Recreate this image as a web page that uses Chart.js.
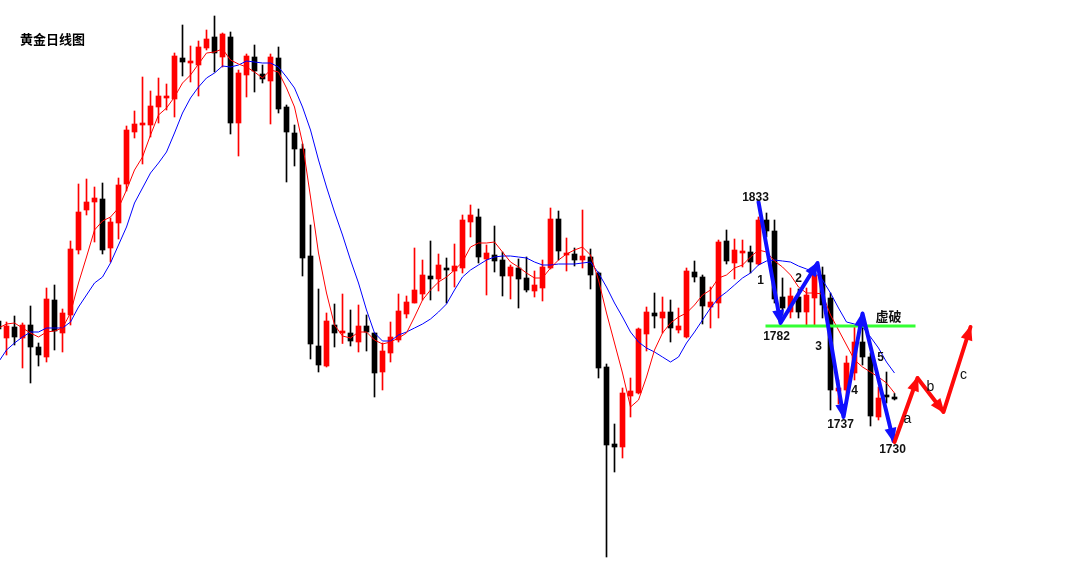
<!DOCTYPE html>
<html>
<head>
<meta charset="utf-8">
<title>黄金日线图</title>
<script src="https://cdn.jsdelivr.net/npm/chart.js@4.4.0/dist/chart.umd.min.js"></script>
<style>
  html, body { margin: 0; padding: 0; background: #fff; }
  #wrap { position: relative; width: 1081px; height: 570px; }
  #title { position: absolute; left: 20px; top: 29px; font: bold 13px "Noto Sans CJK SC", sans-serif; color: #000; }
</style>
</head>
<body>
<div id="wrap">
  <canvas id="kline" width="1081" height="570"></canvas>
  <div id="title">黄金日线图</div>
</div>
<script>
// === Daily candles (index 0 = first full candle on the left) ===
const firstDay = -1;

const opens = [1786.6,
  1779.8, 1784.2, 1779.8, 1785, 1776.2, 1772.2, 1795, 1781.8, 1789, 1815,
  1831, 1834.2, 1835.4, 1815.8, 1825.8, 1841.4, 1862.2, 1865, 1865, 1872.2,
  1875.8, 1875.4, 1891.8, 1889.8, 1889, 1895.8, 1900.2, 1892.2, 1900.2, 1865.8,
  1885, 1892.2, 1885.4, 1882.6, 1891.8, 1872.2, 1861.8, 1855.4, 1812.6, 1776.6,
  1768.6, 1785, 1781.8, 1781.8, 1778.2, 1784.6, 1781.8, 1766.2, 1773.8, 1779,
  1789.4, 1793.8, 1797.4, 1804.6, 1803.4, 1807.8, 1806.6, 1807.8, 1826.2, 1828.2,
  1811.4, 1813, 1811, 1804.6, 1807.8, 1803.8, 1798.6, 1799.8, 1807.8, 1827.4,
  1813, 1813.4, 1811, 1812.2, 1805.8, 1768.2, 1737.4, 1736.2, 1756.6, 1757.8,
  1781.4, 1789.8, 1787.8, 1790.2, 1783, 1780.2, 1806.2, 1804.2, 1792.2, 1793.8,
  1818.6, 1809.8, 1813.8, 1814.2, 1809.4, 1827, 1822.6, 1796.2, 1790.2, 1796.2,
  1790.2, 1795.8, 1805, 1795.8, 1758.6, 1759, 1765.8, 1778.2, 1772.2, 1748.2,
  1756.6, 1756.2];

const highs = [1787.4,
  1786.2, 1788.6, 1785.8, 1792.6, 1777.8, 1799.8, 1801, 1791.4, 1818.6, 1841.4,
  1843.4, 1840.2, 1841.8, 1827.8, 1843.8, 1864.6, 1870.6, 1884.2, 1878.6, 1883.8,
  1881.4, 1893.8, 1905, 1896.6, 1898.6, 1903, 1908.6, 1901.8, 1902.2, 1887,
  1893.4, 1897, 1889, 1893.4, 1896.2, 1873, 1865, 1857.4, 1825, 1799.4,
  1789.8, 1793.4, 1797.4, 1791, 1793, 1789, 1781.8, 1777.8, 1786.2, 1797.4,
  1796.6, 1815.8, 1811, 1818.6, 1813.4, 1811.8, 1817.4, 1829, 1833, 1831.4,
  1817, 1824.6, 1814.2, 1809, 1811.4, 1812.2, 1806.6, 1811, 1831.8, 1830.6,
  1819.8, 1815.8, 1831, 1815.4, 1806.2, 1769.4, 1745.4, 1759.8, 1763.8, 1783.8,
  1792.2, 1797.8, 1796.2, 1795, 1791.8, 1807.8, 1810.6, 1805, 1800.2, 1819,
  1823, 1819.4, 1819, 1816.6, 1828.2, 1829.8, 1827, 1803.8, 1799.8, 1799.4,
  1799.8, 1806.2, 1808.2, 1797.8, 1763, 1772.6, 1784.2, 1784.2, 1773.8, 1760.2,
  1766.2, 1757.6];

const lows = [1782.6,
  1773, 1777, 1767.8, 1761.8, 1768.6, 1770.2, 1775, 1774.2, 1785, 1813.4,
  1829, 1818.2, 1813.4, 1810.2, 1819.4, 1838.6, 1859.8, 1849.4, 1860.2, 1865.8,
  1871, 1868.2, 1884.6, 1882.2, 1876.6, 1895, 1886.2, 1888.2, 1861.4, 1852.6,
  1876.2, 1878.2, 1881.8, 1865.4, 1869.8, 1842.2, 1848.6, 1804.6, 1771.4, 1766.2,
  1768.2, 1776.2, 1777.6, 1776.6, 1774.2, 1774.6, 1756.2, 1759, 1770.2, 1778.2,
  1787.8, 1793.8, 1795, 1795, 1798.6, 1793.8, 1800.2, 1805.8, 1820.2, 1809.8,
  1797, 1806.2, 1796.6, 1795.4, 1791.8, 1798.2, 1796.2, 1794.6, 1807.4, 1811,
  1806.6, 1808.6, 1807.8, 1799.4, 1763.8, 1692.2, 1726.2, 1731.8, 1748.2, 1757.4,
  1774.6, 1783.8, 1781.8, 1778.2, 1781.8, 1779.8, 1802.2, 1785.4, 1783.8, 1787.8,
  1809.4, 1803.4, 1808.2, 1805.8, 1809, 1820.2, 1793.8, 1789, 1787.8, 1787.8,
  1785, 1785, 1787.8, 1751, 1753.4, 1753.8, 1763, 1769, 1744.6, 1747,
  1753.8, 1755];

const closes = [1783.4,
  1784.6, 1780.2, 1785, 1776.2, 1773, 1795.4, 1782.6, 1789.8, 1815.4, 1830.2,
  1834.2, 1835.8, 1815, 1826.2, 1841, 1863, 1865.4, 1865.8, 1872.6, 1876.6,
  1876.2, 1892.6, 1890.2, 1890.2, 1896.2, 1899.4, 1893.8, 1901.4, 1865.8, 1885.8,
  1892.6, 1886.6, 1883.4, 1892.2, 1871.4, 1862.2, 1855.4, 1811.8, 1777.4, 1769,
  1786.6, 1781.8, 1782.2, 1778.6, 1784.6, 1782.2, 1765.8, 1774.6, 1780.2, 1790.6,
  1794.2, 1799, 1805, 1803.4, 1809, 1807, 1808.6, 1827, 1829, 1812.2,
  1813.8, 1810.6, 1804.6, 1808.2, 1803.4, 1799, 1801, 1808.2, 1827.4, 1814.6,
  1813.8, 1811, 1812.6, 1805, 1767.8, 1737, 1736.2, 1757.8, 1758.6, 1783.4,
  1790.2, 1788.6, 1790.2, 1783.8, 1784.6, 1806.6, 1804.2, 1792.6, 1794.2, 1818.2,
  1810.6, 1815, 1814.6, 1810.2, 1827, 1822.6, 1795.4, 1791.8, 1796.6, 1790.2,
  1797, 1805, 1793, 1759, 1759.8, 1769.8, 1778.2, 1772.2, 1748.6, 1755.8,
  1756.2, 1755.4];

// moving averages (red = short, blue = long)
const maShort = [1783.8,
  1785.4, 1785.8, 1783.8, 1781.8, 1780.2, 1782.2, 1782.6, 1783.8, 1789.8, 1801.8,
  1812.2, 1823, 1826.6, 1828.2, 1831.8, 1839, 1847, 1852.2, 1861, 1869,
  1871.8, 1876.2, 1881.8, 1885, 1889.4, 1893.8, 1894.2, 1895.4, 1891, 1889.4,
  1888.2, 1886.2, 1883.8, 1887, 1886.2, 1879.8, 1872.2, 1857.8, 1836.2, 1813.8,
  1797.8, 1785, 1780.6, 1779.8, 1782.2, 1782.2, 1779, 1777.4, 1778.2, 1779.8,
  1781.8, 1788.2, 1795, 1799, 1802.2, 1804.2, 1807, 1810.2, 1816.2, 1817.8,
  1817.8, 1818.2, 1814.2, 1810.2, 1808.2, 1805.8, 1803.8, 1803.8, 1807.8, 1811,
  1813.4, 1815, 1816.2, 1813, 1803, 1789.8, 1777.8, 1765.8, 1752.2, 1755,
  1764.2, 1775, 1781.8, 1785.8, 1788.2, 1789.8, 1793, 1797, 1799, 1803.8,
  1805, 1807.8, 1809, 1812.2, 1815, 1814.2, 1810.6, 1808.2, 1805, 1800.2,
  1797.8, 1797.8, 1797.4, 1789, 1783, 1777, 1771, 1768.2, 1766.2, 1764.2,
  1761.8, 1757.8];

const maLong = [1770.2,
  1775, 1777.8, 1780.2, 1782.2, 1782.2, 1783.8, 1783.8, 1783.8, 1786.2, 1792.2,
  1797, 1801.8, 1804.2, 1809.8, 1817, 1824.2, 1833.8, 1839.8, 1845.8, 1849.8,
  1854.2, 1861.8, 1869.8, 1875.8, 1880.2, 1883.8, 1885.8, 1888.6, 1888.2, 1889,
  1890.6, 1890.2, 1889.8, 1889.8, 1888.2, 1884.2, 1879.8, 1872.2, 1863, 1851,
  1840.2, 1830.2, 1821, 1811, 1801.8, 1791, 1781.8, 1778.6, 1778.6, 1781,
  1782.2, 1783.8, 1785.4, 1787.4, 1790.2, 1793.4, 1799, 1804.2, 1807, 1809,
  1811, 1812.2, 1812.6, 1812.6, 1812.2, 1811.8, 1810.2, 1809, 1809, 1809.4,
  1809.4, 1809.4, 1809.8, 1810.2, 1805.8, 1800.2, 1793.8, 1788.2, 1782.2, 1778.2,
  1775.8, 1774.2, 1772.2, 1770.2, 1772.2, 1777.8, 1782.2, 1787, 1791.8, 1795.8,
  1798.2, 1801, 1803.8, 1805.8, 1809, 1810.6, 1811, 1810.6, 1810.2, 1808.6,
  1807.4, 1806.2, 1803, 1797.8, 1791.8, 1786.2, 1785.4, 1784.2, 1780.2, 1775.8,
  1770.2, 1765.8];

// === Hand-drawn wave annotations (day index, price) ===
const blueWaveX = [94.0, 96.75, 101.375, 104.625, 107.0, 110.875];
const blueWaveY = [1834.2, 1785.8, 1809.8, 1748.2, 1789.6, 1738.6];
const redWaveX = [111.0, 113.875, 117.125, 120.5];
const redWaveY = [1738.2, 1763.8, 1750.2, 1784.2];
const supportX = [94.875, 113.625];
const supportY = 1784.6;

const noteTexts = ["1833", "1", "2", "1782", "3", "4", "1737", "5", "1730", "a", "b", "c", "虚破"];
const noteX = [93.625, 94.25, 99, 96.25, 101.5, 106, 104.25, 109.25, 110.75, 112.625, 115.5, 119.625, 110.25];
const noteY = [1835.8, 1802.6, 1803.4, 1780.2, 1776.2, 1758.6, 1745, 1771.8, 1735, 1747.4, 1760.2, 1765, 1788.6];

const days = opens.map((_, k) => firstDay + k);
const upColor = "#ff0000", downColor = "#000000";
const candleColors = days.map((_, k) => closes[k] >= opens[k] ? upColor : downColor);

function arrowHead(ctx, x0, y0, x1, y1, color) {
  const a = Math.atan2(y1 - y0, x1 - x0);
  const len = 13, half = 6;
  ctx.save();
  ctx.fillStyle = color;
  ctx.beginPath();
  ctx.moveTo(x1 + Math.cos(a) * 2, y1 + Math.sin(a) * 2);
  ctx.lineTo(x1 - Math.cos(a) * len + Math.sin(a) * half, y1 - Math.sin(a) * len - Math.cos(a) * half);
  ctx.lineTo(x1 - Math.cos(a) * len - Math.sin(a) * half, y1 - Math.sin(a) * len + Math.cos(a) * half);
  ctx.closePath();
  ctx.fill();
  ctx.restore();
}

function wave(ctx, xs, ys, wx, wy, color) {
  const px = wx.map(v => xs.getPixelForValue(v));
  const py = wy.map(v => ys.getPixelForValue(v));
  ctx.save();
  ctx.strokeStyle = color;
  ctx.lineWidth = 4;
  ctx.lineJoin = "round";
  ctx.lineCap = "round";
  ctx.beginPath();
  px.forEach((x, k) => k ? ctx.lineTo(x, py[k]) : ctx.moveTo(x, py[k]));
  ctx.stroke();
  ctx.restore();
  for (let k = 1; k < px.length; k++) arrowHead(ctx, px[k - 1], py[k - 1], px[k], py[k], color);
}

const notesPlugin = {
  id: "waveNotes",
  afterDatasetsDraw(chart) {
    const ctx = chart.ctx, xs = chart.scales.x, ys = chart.scales.y;
    // support line
    ctx.save();
    ctx.strokeStyle = "#33ff33";
    ctx.lineWidth = 3;
    ctx.beginPath();
    ctx.moveTo(xs.getPixelForValue(supportX[0]), ys.getPixelForValue(supportY));
    ctx.lineTo(xs.getPixelForValue(supportX[1]), ys.getPixelForValue(supportY));
    ctx.stroke();
    ctx.restore();

    wave(ctx, xs, ys, blueWaveX, blueWaveY, "#1010ff");
    wave(ctx, xs, ys, redWaveX, redWaveY, "#ff0a0a");

    ctx.save();
    ctx.textAlign = "center";
    ctx.textBaseline = "middle";
    noteTexts.forEach((t, k) => {
      if (t === "虚破") ctx.font = 'bold 13px "Noto Sans CJK SC", sans-serif';
      else if (/^[0-9]+$/.test(t)) ctx.font = 'bold 12px "Liberation Sans", Arial, sans-serif';
      else ctx.font = '14px "Liberation Sans", Arial, sans-serif';
      ctx.fillStyle = "#111";
      ctx.fillText(t, xs.getPixelForValue(noteX[k]), ys.getPixelForValue(noteY[k]));
    });
    ctx.restore();
  }
};

new Chart(document.getElementById("kline"), {
  type: "bar",
  data: {
    datasets: [
      { type: "line", label: "MA short", data: days.map((d, k) => ({ x: d, y: maShort[k] })),
        borderColor: "#ff0000", borderWidth: 1, pointRadius: 0, tension: 0, order: 0 },
      { type: "line", label: "MA long", data: days.map((d, k) => ({ x: d, y: maLong[k] })),
        borderColor: "#0000ff", borderWidth: 1, pointRadius: 0, tension: 0, order: 0 },
      { label: "wick", data: days.map((d, k) => ({ x: d, y: [lows[k], highs[k]] })),
        backgroundColor: candleColors, barThickness: 1, grouped: false, order: 2 },
      { label: "body", data: days.map((d, k) => ({ x: d, y: [opens[k], closes[k]] })),
        backgroundColor: candleColors, barThickness: 5, minBarLength: 2, grouped: false, order: 1 }
    ]
  },
  options: {
    responsive: false,
    animation: false,
    devicePixelRatio: 1,
    layout: { padding: 0 },
    scales: {
      x: { type: "linear", min: -0.8125, max: 134.3125, offset: false, bounds: "ticks", display: false },
      y: { min: 1687, max: 1915, display: false }
    },
    plugins: { legend: { display: false }, tooltip: { enabled: false } }
  },
  plugins: [notesPlugin]
});
</script>
</body>
</html>
